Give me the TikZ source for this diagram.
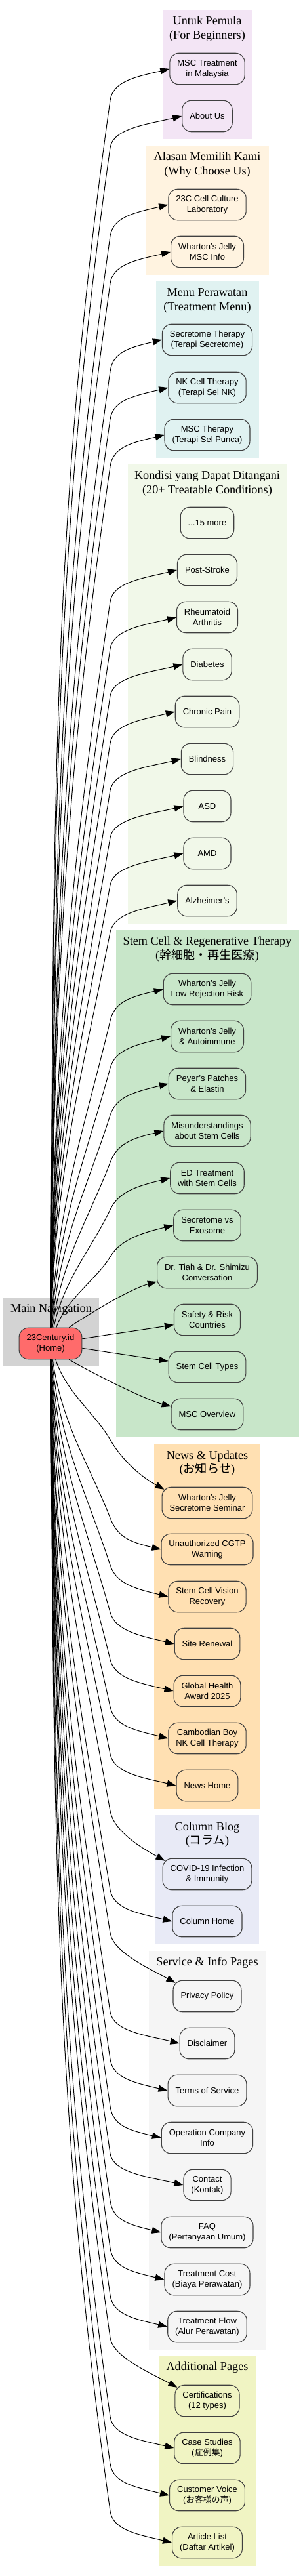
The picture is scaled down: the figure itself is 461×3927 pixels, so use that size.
\documentclass[tikz,border=0pt]{standalone}
\usepackage{fontspec}
\setmainfont{Liberation Serif}
\setsansfont{Liberation Sans}
\newfontfamily\cjk{Noto Sans CJK JP}
\usetikzlibrary{arrows.meta, calc}

\definecolor{cbegin}{HTML}{F3E5F5}
\definecolor{cwhy}{HTML}{FFF3E0}
\definecolor{cmenu}{HTML}{E0F2F1}
\definecolor{ccond}{HTML}{F1F8E9}
\definecolor{cstem}{HTML}{C8E6C9}
\definecolor{cmain}{HTML}{D3D3D3}
\definecolor{cnews}{HTML}{FFE0B2}
\definecolor{ccol}{HTML}{E8EAF6}
\definecolor{cserv}{HTML}{F5F5F5}
\definecolor{cadd}{HTML}{F0F4C3}
\definecolor{chome}{HTML}{FF6B6B}

\tikzset{
	page/.style={draw=black!75, line width=1.1pt, rounded corners=14pt, align=center,
		font=\sffamily\fontsize{13}{16}\selectfont, minimum width=72pt, minimum height=47.5pt,
		inner xsep=11.5pt, inner ysep=3pt},
	ctitle/.style={font=\rmfamily\fontsize{18.2}{21.8}\selectfont, align=center, inner sep=0pt},
	link/.style={-{Triangle[length=14pt,width=10pt]}, line width=1pt},
}

\begin{document}
\begin{tikzpicture}[x=1pt, y=1pt]
	\path[use as bounding box, fill=white] (0,0) rectangle (461,-3927);

	\fill[cbegin] (248,-15) rectangle (385,-212);
	\fill[cwhy] (223,-222) rectangle (410,-419);
	\fill[cmenu] (238,-429) rectangle (395,-698);
	\fill[ccond] (195,-708) rectangle (438,-1408);
	\fill[cstem] (177,-1418) rectangle (456,-2191);
	\fill[cmain] (4,-1978) rectangle (151,-2083);
	\fill[cnews] (235,-2201) rectangle (397,-2758);
	\fill[ccol] (236,-2767) rectangle (395,-2964);
	\fill[cserv] (227,-2974) rectangle (406,-3582);
	\fill[cadd] (243,-3591) rectangle (390,-3911);

	\node[ctitle] (begtitle) at (316,-44.5) {Untuk Pemula\\(For Beginners)};
	\node[ctitle] (whytitle) at (316,-251.5) {Alasan Memilih Kami\\(Why Choose Us)};
	\node[ctitle] (menutitle) at (316,-458.5) {Menu Perawatan\\(Treatment Menu)};
	\node[ctitle] (condtitle) at (316,-737.5) {Kondisi yang Dapat Ditangani\\(20+ Treatable Conditions)};
	\node[ctitle] (stemtitle) at (316,-1447.5) {Stem Cell \& Regenerative Therapy\\({\cjk 幹細胞・再生医療})};
	\node[ctitle] (maintitle) at (78,-1996) {Main Navigation};
	\node[ctitle] (newstitle) at (316,-2230.5) {News \& Updates\\({\cjk お知らせ})};
	\node[ctitle] (coltitle) at (316,-2796.5) {Column Blog\\({\cjk コラム})};
	\node[ctitle] (servtitle) at (316,-2992) {Service \& Info Pages};
	\node[ctitle] (addtitle) at (316,-3609) {Additional Pages};

	\node[page] (msctreat) at (316,-105) {MSC Treatment\\in Malaysia};
	\node[page] (aboutus) at (316,-177) {About Us};

	\node[page] (culturelab) at (316,-312) {23C Cell Culture\\Laboratory};
	\node[page] (whartoninfo) at (316,-384) {Wharton's Jelly\\MSC Info};

	\node[page] (secretome) at (316,-518) {Secretome Therapy\\(Terapi Secretome)};
	\node[page] (nkcell) at (316,-591) {NK Cell Therapy\\(Terapi Sel NK)};
	\node[page] (msctherapy) at (316,-663) {MSC Therapy\\(Terapi Sel Punca)};

	\node[page] (more) at (316,-797) {...15 more};
	\node[page] (poststroke) at (316,-869) {Post-Stroke};
	\node[page] (rheuma) at (316,-941) {Rheumatoid\\Arthritis};
	\node[page] (diabetes) at (316,-1013) {Diabetes};
	\node[page] (chronic) at (316,-1085) {Chronic Pain};
	\node[page] (blindness) at (316,-1157) {Blindness};
	\node[page] (asd) at (316,-1229) {ASD};
	\node[page] (amd) at (316,-1301) {AMD};
	\node[page] (alzheimer) at (316,-1373) {Alzheimer's};

	\node[page] (lowreject) at (316,-1508) {Wharton's Jelly\\Low Rejection Risk};
	\node[page] (autoimmune) at (316,-1580) {Wharton's Jelly\\\& Autoimmune};
	\node[page] (peyer) at (316,-1652) {Peyer's Patches\\\& Elastin};
	\node[page] (misunder) at (316,-1724) {Misunderstandings\\about Stem Cells};
	\node[page] (edtreat) at (316,-1796) {ED Treatment\\with Stem Cells};
	\node[page] (secvsexo) at (316,-1868) {Secretome vs\\Exosome};
	\node[page] (drtiah) at (316,-1940) {Dr. Tiah \& Dr. Shimizu\\Conversation};
	\node[page] (safety) at (316,-2012) {Safety \& Risk\\Countries};
	\node[page] (celltypes) at (316,-2084) {Stem Cell Types};
	\node[page] (mscover) at (316,-2156) {MSC Overview};

	\node[page, fill=chome] (home) at (77,-2048) {23Century.id\\(Home)};

	\node[page] (seminar) at (316,-2291) {Wharton's Jelly\\Secretome Seminar};
	\node[page] (cgtp) at (316,-2362) {Unauthorized CGTP\\Warning};
	\node[page] (vision) at (316,-2434) {Stem Cell Vision\\Recovery};
	\node[page] (renewal) at (316,-2506) {Site Renewal};
	\node[page] (award) at (316,-2578) {Global Health\\Award 2025};
	\node[page] (cambodia) at (316,-2650) {Cambodian Boy\\NK Cell Therapy};
	\node[page] (newshome) at (316,-2722) {News Home};

	\node[page] (covid) at (316,-2857) {COVID-19 Infection\\\& Immunity};
	\node[page] (columnhome) at (316,-2929) {Column Home};

	\node[page] (privacy) at (316,-3043) {Privacy Policy};
	\node[page] (disclaimer) at (316,-3115) {Disclaimer};
	\node[page] (terms) at (316,-3187) {Terms of Service};
	\node[page] (opcompany) at (316,-3259) {Operation Company\\Info};
	\node[page] (contact) at (316,-3331) {Contact\\(Kontak)};
	\node[page] (faq) at (316,-3403) {FAQ\\(Pertanyaan Umum)};
	\node[page] (cost) at (316,-3475) {Treatment Cost\\(Biaya Perawatan)};
	\node[page] (flow) at (316,-3547) {Treatment Flow\\(Alur Perawatan)};

	\node[page] (certs) at (316,-3660) {Certifications\\(12 types)};
	\node[page] (casestudy) at (316,-3732) {Case Studies\\({\cjk 症例集})};
	\node[page] (voice) at (316,-3804) {Customer Voice\\({\cjk お客様の声})};
	\node[page] (articles) at (316,-3876) {Article List\\(Daftar Artikel)};

	\foreach \tgt in {msctreat, aboutus, culturelab, whartoninfo, secretome, nkcell, msctherapy,
		poststroke, rheuma, diabetes, chronic, blindness, asd, amd, alzheimer,
		lowreject, autoimmune, peyer, misunder, edtreat, secvsexo,
		cgtp, vision, renewal, award, cambodia, newshome, columnhome,
		disclaimer, terms, opcompany, contact, faq, cost, flow, casestudy, voice, articles}
		\draw[link] let \p0 = (home.center), \p1 = (\tgt.west),
			\n1 = {(\y1>\y0)*2-1}, \n3 = {abs(\y1-(\y0))-72.5},
			\n4 = {exp(-\n3/250)}, \n5 = {8+35*\n4}, \n6 = {0.35*\n3},
			\p2 = ({\x0+5+30*\n4}, {\y0+(\n1)*(25+0.4*\n3)}),
			\p3 = (168pt, {\y1-(\n1)*48}),
			\p4 = ({\x3-\n6*sin(\n5)}, {\y3-(\n1)*\n6*cos(\n5)}),
			\p5 = ({\x3+30*sin(\n5)}, {\y3+(\n1)*30*cos(\n5)}),
			\p6 = ({\x1-50}, {\y1-(\n1)*12})
		in (home) .. controls (\p2) and (\p4) .. (\p3) .. controls (\p5) and (\p6) .. (\tgt.west);

	\foreach \tgt in {seminar, covid, privacy, certs}
		\draw[link] let \p0 = (home.center), \p1 = ([xshift=4pt,yshift=-4pt]\tgt.north west),
			\n3 = {\y0-(\y1)-100}, \n4 = {exp(-\n3/250)}, \n5 = {8+35*\n4}, \n6 = {0.35*\n3},
			\p2 = ({\x0+5+30*\n4}, {\y0-25-0.4*\n3}),
			\p3 = (168pt, {\y1+76}),
			\p4 = ({\x3-\n6*sin(\n5)}, {\y3+\n6*cos(\n5)}),
			\p5 = ({\x3+30*sin(\n5)}, {\y3-30*cos(\n5)}),
			\p6 = ({\x1-40}, {\y1+22})
		in (home) .. controls (\p2) and (\p4) .. (\p3) .. controls (\p5) and (\p6) .. (\p1);

	\draw[link] (home) .. controls +(35,30) and +(-45,-12) .. ([yshift=-14pt]drtiah.west);
	\draw[link] (home) -- (safety);
	\draw[link] (home) -- (celltypes);
	\draw[link] (home) .. controls +(35,-30) and +(-45,12) .. ([yshift=12pt]mscover.west);
\end{tikzpicture}
\end{document}
